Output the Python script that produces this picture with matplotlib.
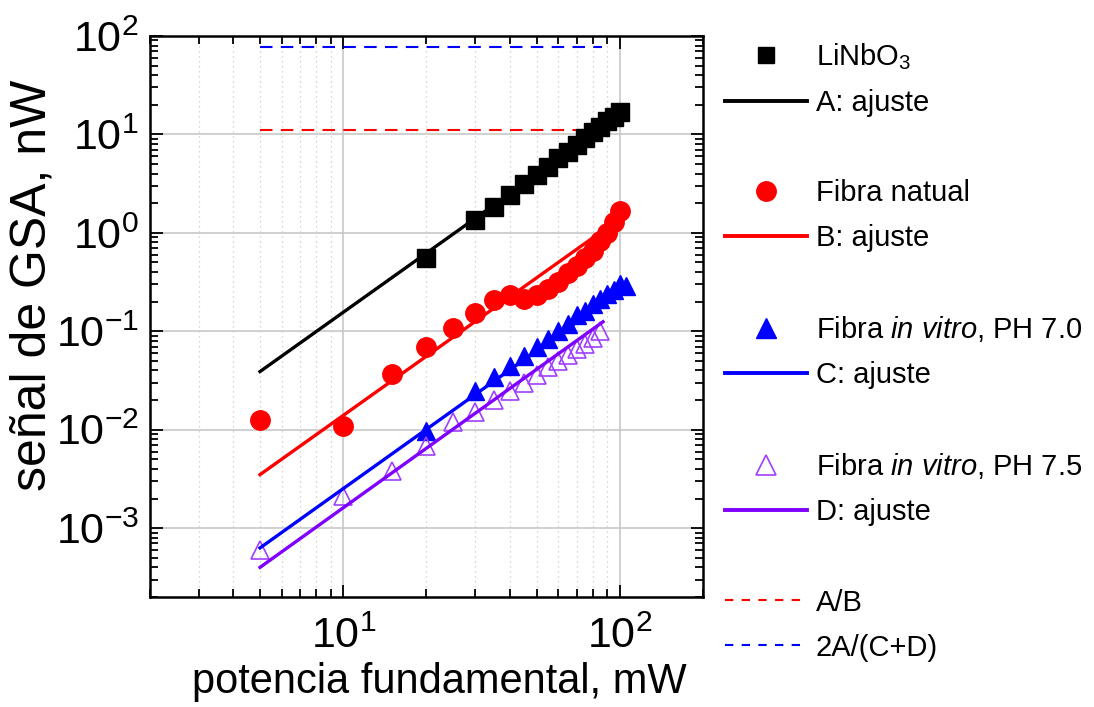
import matplotlib
matplotlib.use('Agg')
import matplotlib.pyplot as plt
from matplotlib.lines import Line2D
from matplotlib.ticker import LogLocator, NullFormatter

plt.rcParams['font.family'] = ['Liberation Sans', 'DejaVu Sans']
plt.rcParams['mathtext.fontset'] = 'custom'
plt.rcParams['mathtext.rm'] = 'Liberation Sans'
plt.rcParams['mathtext.it'] = 'Liberation Sans:italic'
plt.rcParams['axes.unicode_minus'] = False

# LiNbO3 reference crystal
x_linbo3 = [20, 30, 35, 40, 45, 50, 55, 60, 65, 70, 75, 80, 85, 90, 95, 100]
y_linbo3 = [0.56, 1.35, 1.85, 2.4, 3.1, 3.9, 4.7, 5.7, 6.7, 7.9, 9.2, 10.5, 12.0, 13.6, 15.2, 17.0]

# natural fibre
x_natural = [5, 10, 15, 20, 25, 30, 35, 40, 45, 50, 55, 60, 65, 70, 75, 80, 85, 90, 95, 100]
y_natural = [0.0126, 0.011, 0.037, 0.069, 0.108, 0.155, 0.21, 0.235, 0.215, 0.235,
             0.27, 0.32, 0.39, 0.46, 0.56, 0.66, 0.82, 1.0, 1.3, 1.65]

# in vitro fibre, pH 7.0
x_ph70 = [20, 30, 35, 40, 45, 50, 55, 60, 65, 70, 75, 80, 85, 90, 95, 100, 105]
y_ph70 = [0.0098, 0.025, 0.034, 0.044, 0.056, 0.07, 0.083, 0.1, 0.12, 0.145,
          0.16, 0.19, 0.215, 0.24, 0.26, 0.3, 0.29]

# in vitro fibre, pH 7.5
x_ph75 = [5, 10, 15, 20, 25, 30, 35, 40, 45, 50, 55, 60, 65, 70, 75, 80, 85]
y_ph75 = [0.0006, 0.0021, 0.0038, 0.0068, 0.012, 0.015, 0.02, 0.025, 0.03, 0.036,
          0.043, 0.05, 0.058, 0.066, 0.075, 0.085, 0.1]

# quadratic fits (straight lines on log-log), given by their end points
fit_a_x, fit_a_y = [5, 100], [0.039, 15.6]
fit_b_x, fit_b_y = [5, 90], [0.0035, 1.13]
fit_c_x, fit_c_y = [5, 105], [0.00063, 0.28]
fit_d_x, fit_d_y = [5, 87], [0.0004, 0.125]

# ratios of the fits
ratio_x = [5, 86]
ratio_ab = [11.1, 11.1]
ratio_acd = [77, 77]

purple_line = '#7f00ff'
purple_mark = '#a040ff'

fig = plt.figure(figsize=(10.94, 7.07), dpi=100)
ax = fig.add_axes([0.1371, 0.1556, 0.5055, 0.7935])

ax.plot(ratio_x, ratio_ab, color='red', lw=1.5, dashes=(6, 4))
ax.plot(ratio_x, ratio_acd, color='blue', lw=1.5, dashes=(6, 4))

ax.plot(x_linbo3, y_linbo3, 's', color='black', ms=12.5, ls='none')
ax.plot(fit_a_x, fit_a_y, color='black', lw=2.4)

ax.plot(x_natural, y_natural, 'o', color='red', ms=14, ls='none')
ax.plot(fit_b_x, fit_b_y, color='red', lw=2.4)

ax.plot(x_ph70, y_ph70, '^', color='blue', ms=13, ls='none')
ax.plot(x_ph75, y_ph75, '^', mfc='none', mec=purple_mark, mew=1.2, ms=13, ls='none')
ax.plot(fit_c_x, fit_c_y, color='blue', lw=2.4)
ax.plot(fit_d_x, fit_d_y, color=purple_line, lw=2.4)

ax.set_xscale('log')
ax.set_yscale('log')
ax.set_xlim(2, 200)
ax.set_ylim(2e-4, 100)

ax.xaxis.set_major_locator(LogLocator(base=10, numticks=10))
ax.xaxis.set_minor_locator(LogLocator(base=10, subs=range(2, 10), numticks=10))
ax.yaxis.set_major_locator(LogLocator(base=10, numticks=10))
ax.yaxis.set_minor_locator(LogLocator(base=10, subs=range(2, 10), numticks=10))
ax.xaxis.set_minor_formatter(NullFormatter())
ax.yaxis.set_minor_formatter(NullFormatter())

ax.grid(which='major', color='#c8c8c8', lw=1.2, ls='-')
ax.grid(which='minor', axis='x', color='#c8c8c8', lw=0.9, ls=(0, (1, 3)))
ax.set_axisbelow(True)

ax.tick_params(which='both', direction='in', top=True, right=True, width=1.3)
ax.tick_params(which='major', length=9, labelsize=31)
ax.tick_params(axis='x', which='major', pad=14)
ax.tick_params(axis='y', which='major', pad=8)
ax.tick_params(which='minor', length=6)
for s in ax.spines.values():
    s.set_linewidth(1.8)

ax.set_xlabel('potencia fundamental, mW', fontsize=30)
ax.set_ylabel('señal de GSA, nW', fontsize=36)
ax.xaxis.set_label_coords(0.524, -0.115)
ax.yaxis.set_label_coords(-0.17, 0.555)

# legend with blank rows between the groups
blank = Line2D([], [], ls='none')
handles = [
    Line2D([], [], marker='s', color='black', ms=11, ls='none'),
    Line2D([], [], color='black', lw=2.8),
    blank,
    Line2D([], [], marker='o', color='red', ms=14, ls='none'),
    Line2D([], [], color='red', lw=2.8),
    blank,
    Line2D([], [], marker='^', color='blue', ms=14, ls='none'),
    Line2D([], [], color='blue', lw=2.8),
    blank,
    Line2D([], [], marker='^', mfc='none', mec=purple_mark, mew=1.2, ms=14, ls='none'),
    Line2D([], [], color=purple_line, lw=2.8),
    blank,
    Line2D([], [], color='red', lw=1.5, dashes=(4, 4)),
    Line2D([], [], color='blue', lw=1.5, dashes=(4, 4)),
]
labels = [
    r'LiNbO$_3$', 'A: ajuste', '',
    'Fibra natual', 'B: ajuste', '',
    r'Fibra $\it{in\ vitro}$, PH 7.0', 'C: ajuste', '',
    r'Fibra $\it{in\ vitro}$, PH 7.5', 'D: ajuste', '',
    'A/B', '2A/(C+D)',
]
fig.legend(handles, labels, loc='upper left', bbox_to_anchor=(0.663, 0.942),
           frameon=False, fontsize=21, handlelength=2.8, handletextpad=0.3,
           labelspacing=0.585, borderpad=0, borderaxespad=0)

fig.savefig('out.png', dpi=100)
